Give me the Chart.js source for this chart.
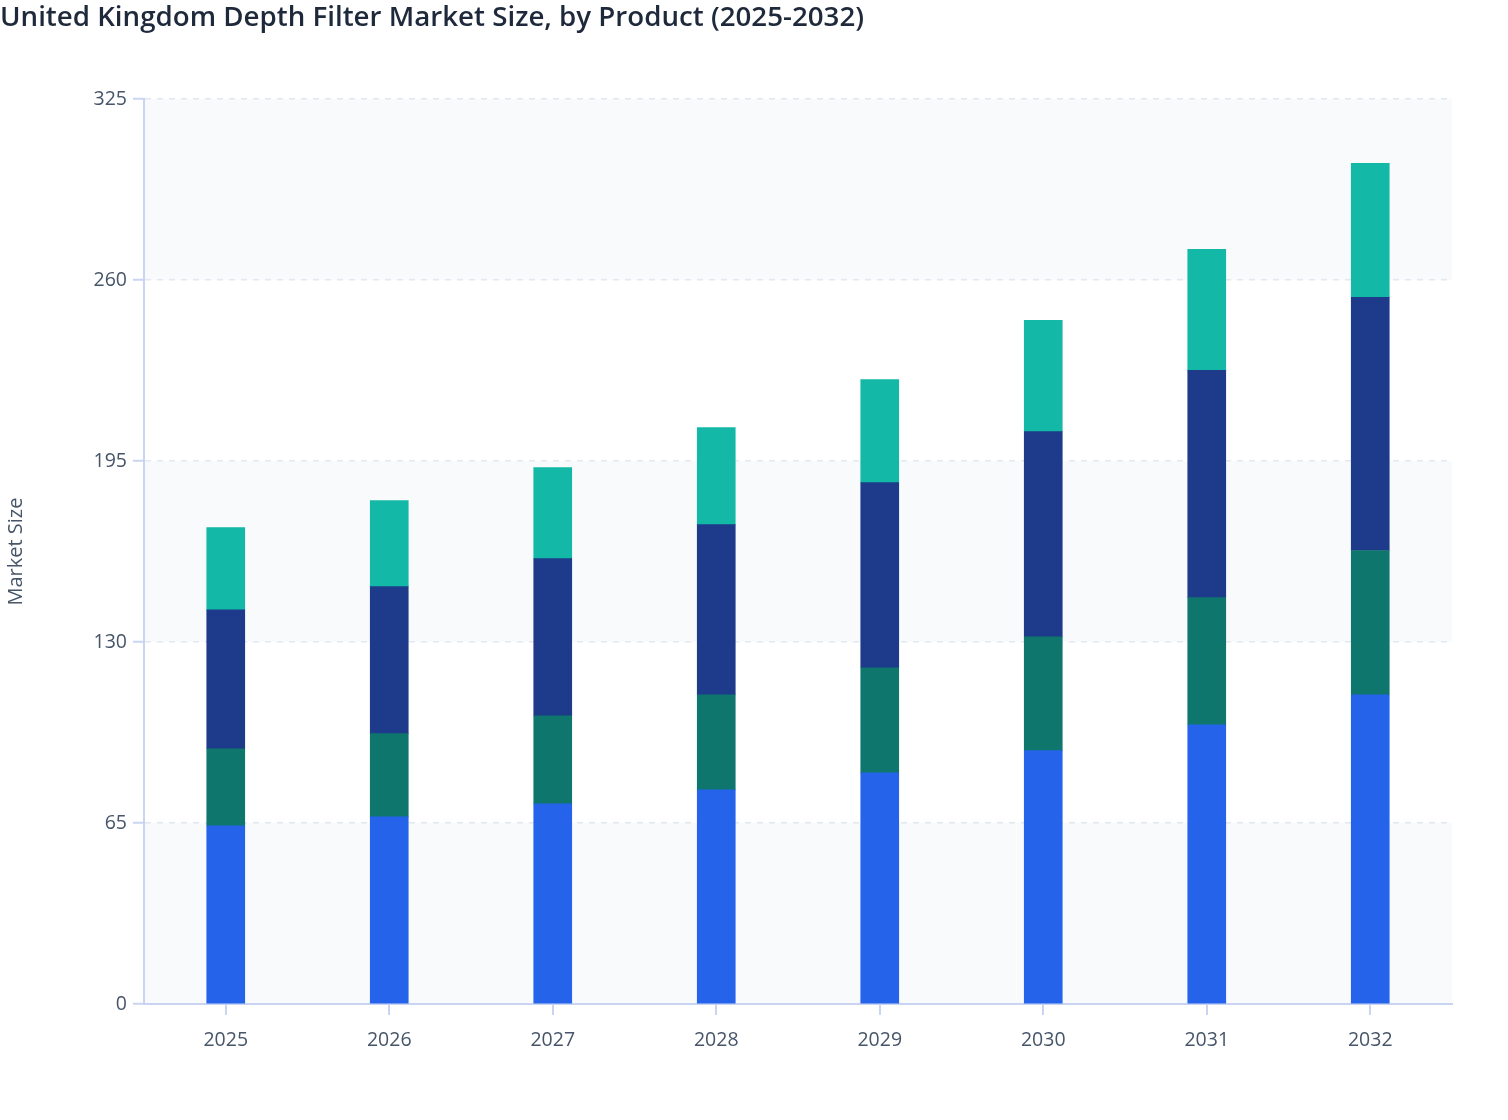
<!DOCTYPE html>
<html>
<head>
<meta charset="utf-8">
<script src="https://cdn.jsdelivr.net/npm/chart.js@4"></script>
<style>
  html, body { margin: 0; padding: 0; background: #ffffff; }
  #wrap { width: 1508px; height: 1120px; }
</style>
</head>
<body>
<div id="wrap"><canvas id="myChart"></canvas></div>
<script>
const years = ['2025', '2026', '2027', '2028', '2029', '2030', '2031', '2032'];
const seriesA = [64.0, 67.2, 71.9, 76.9, 83.0, 91.0, 100.3, 111.1];  // bright blue
const seriesB = [27.7, 29.9, 31.6, 34.2, 37.8, 40.9, 45.7, 51.8];    // dark green
const seriesC = [49.9, 52.8, 56.5, 61.1, 66.5, 73.7, 81.6, 90.9];    // navy
const seriesD = [29.5, 30.9, 32.7, 34.9, 37.0, 40.0, 43.5, 48.2];    // teal
const yTicks = [0, 65, 130, 195, 260, 325];

const axisColor = '#c9d4f3';
const textColor = '#475569';

// alternating shaded bands between y gridlines
const bands = {
    id: 'bands',
    beforeDraw(chart) {
        const { ctx, chartArea, scales } = chart;
        const y = scales.y;
        ctx.save();
        ctx.fillStyle = '#f8fafc';
        for (let i = 0; i < yTicks.length - 1; i += 2) {
            const top = y.getPixelForValue(yTicks[i + 1]);
            const bottom = y.getPixelForValue(yTicks[i]);
            ctx.fillRect(chartArea.left, top, chartArea.right - chartArea.left, bottom - top);
        }
        ctx.restore();
    }
};

const ctx = document.getElementById('myChart');

new Chart(ctx, {
    type: 'bar',
    data: {
        labels: years,
        datasets: [
            { label: 'A', data: seriesA, backgroundColor: '#2563eb' },
            { label: 'B', data: seriesB, backgroundColor: '#0f766e' },
            { label: 'C', data: seriesC, backgroundColor: '#1e3a8a' },
            { label: 'D', data: seriesD, backgroundColor: '#14b8a6' }
        ]
    },
    options: {
        responsive: true,
        maintainAspectRatio: false,
        animation: false,
        layout: { padding: { left: 0, right: 56, top: 0, bottom: 0 } },
        datasets: { bar: { barThickness: 38 } },
        plugins: {
            legend: { display: false },
            tooltip: { enabled: false },
            title: {
                display: true,
                text: 'United Kingdom Depth Filter Market Size, by Product (2025-2032)',
                align: 'start',
                color: '#1e293b',
                font: { family: 'Open Sans', size: 27.7, weight: '600' },
                padding: { top: 1, bottom: 65 }
            }
        },
        scales: {
            x: {
                stacked: true,
                border: { color: axisColor, width: 2 },
                grid: { offset: false, drawOnChartArea: false, drawTicks: true, tickLength: 11, color: axisColor, lineWidth: 2 },
                ticks: { color: textColor, font: { family: 'Open Sans', size: 19.5 }, padding: 14 },
                afterFit(scale) { scale.height = 116; }
            },
            y: {
                stacked: true,
                min: 0,
                max: 325,
                afterBuildTicks(scale) { scale.ticks = yTicks.map(v => ({ value: v })); },
                border: { color: axisColor, width: 2, dash: [6, 6] },
                grid: {
                    color: '#e2e8f0',
                    lineWidth: 1.5,
                    tickColor: axisColor,
                    tickLength: 11,
                    tickWidth: 2,
                    tickBorderDash: []
                },
                ticks: { color: textColor, font: { family: 'Open Sans', size: 19.5 }, padding: 6 },
                title: {
                    display: true,
                    text: 'Market Size',
                    color: textColor,
                    font: { family: 'Open Sans', size: 20 },
                    padding: { top: 4, bottom: 4 }
                },
                afterFit(scale) { scale.width = 144; }
            }
        }
    },
    plugins: [bands]
});
</script>
</body>
</html>
